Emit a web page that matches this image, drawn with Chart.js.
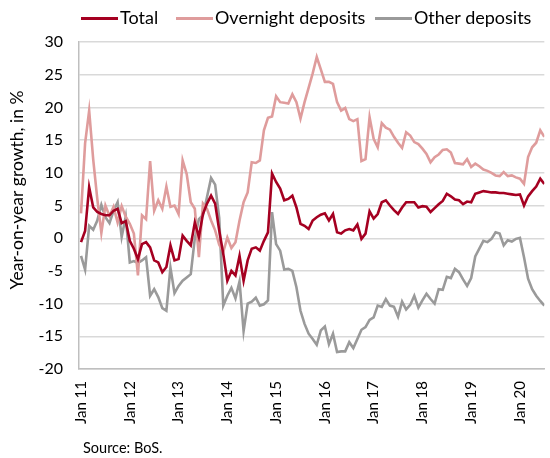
<!DOCTYPE html>
<html>
<head>
<meta charset="utf-8">
<script src="https://cdn.jsdelivr.net/npm/chart.js@4.4.1/dist/chart.umd.min.js"></script>
<style>
  html, body { margin: 0; padding: 0; background: #fff; }
  #wrap { position: relative; width: 550px; height: 458px; font-family: Lato, "Liberation Sans", sans-serif; color: #000; }
  #c { position: absolute; left: 0; top: 0; }
  .item { position: absolute; top: 7px; font-size: 18px; line-height: 21px; white-space: nowrap; }
  .swatch { display: inline-block; width: 37px; height: 3px; vertical-align: middle; margin-right: 2px; position: relative; top: -1px; }
  #source { position: absolute; left: 83px; top: 439px; font-size: 14.5px; white-space: nowrap; }
</style>
</head>
<body>
<div id="wrap">
  <canvas id="c" width="550" height="458"></canvas>
  <div id="legend"></div>
  <div id="source">Source: BoS.</div>
</div>
<script>
// Year-on-year growth of deposits, monthly, Jan 2011 - Jul 2020 (%)
const tickLabels = ['Jan 11', 'Jan 12', 'Jan 13', 'Jan 14', 'Jan 15', 'Jan 16', 'Jan 17', 'Jan 18', 'Jan 19', 'Jan 20'];
const seriesNames = ['Total', 'Overnight deposits', 'Other deposits'];
const seriesColors = ['#a50021', '#df9c9c', '#9a9a9a'];

const total = [
  -0.6, 1.1, 7.8, 4.7, 4.0, 3.7, 3.5, 3.5, 4.2, 4.5, 2.3, 2.6,
  -0.4, -1.6, -3.2, -0.9, -0.6, -1.4, -3.4, -3.7, -5.2, -4.4, -1.1, -3.4,
  -3.2, 0.4, -0.4, -1.1, 2.4, 0.2, 3.7, 5.3, 6.5, 5.3, 1.2, -2.4,
  -6.5, -5.0, -5.7, -2.7, -6.5, -3.4, -1.6, -1.4, -1.9, -0.4, 0.9, 9.9,
  8.6, 7.6, 5.8, 6.0, 6.5, 4.7, 2.2, 1.9, 1.4, 2.7, 3.2, 3.6,
  3.8, 2.7, 3.7, 0.9, 0.7, 1.2, 1.4, 1.2, 2.1, -0.1, 0.7, 4.1,
  3.0, 3.7, 5.5, 5.8, 5.0, 4.3, 3.7, 4.7, 5.5, 5.5, 5.5, 4.7,
  4.9, 4.8, 4.0, 4.6, 5.2, 5.7, 6.8, 6.4, 5.9, 5.8, 5.2, 5.6,
  5.5, 6.8, 7.0, 7.2, 7.1, 7.0, 7.0, 6.9, 6.9, 6.8, 6.7, 6.6,
  6.7, 5.0, 6.4, 7.2, 7.9, 9.1, 8.3
];

const overnight = [
  3.8, 14.5, 19.5, 12.0, 6.0, 0.8, 5.0, 3.4, 4.8, 2.4, 4.9, 3.3,
  2.2, 0.7, -5.7, 3.5, 2.9, 11.8, 4.2, 5.8, 4.5, 7.9, 4.8, 5.0,
  3.7, 11.9, 9.8, 5.5, 4.5, -2.9, 5.3, 4.5, 2.7, 1.2, -1.0, -2.1,
  0.1, -1.5, -0.6, 2.7, 5.5, 7.0, 11.6, 11.5, 11.9, 16.5, 18.4, 18.6,
  21.7, 20.8, 20.7, 20.6, 22.0, 20.8, 18.3, 20.8, 23.0, 25.2, 27.7, 25.8,
  23.9, 23.9, 23.6, 20.8, 19.5, 19.9, 18.2, 17.9, 18.2, 11.8, 12.1, 18.5,
  15.2, 13.9, 17.6, 16.9, 16.6, 15.5, 14.6, 13.8, 16.2, 15.7, 14.7, 14.4,
  13.7, 12.9, 11.6, 12.4, 12.8, 13.5, 13.6, 13.1, 11.5, 11.4, 11.3, 12.1,
  10.9, 11.4, 11.0, 10.5, 10.3, 10.0, 9.6, 9.5, 10.1, 9.5, 9.6, 9.3,
  9.1, 8.3, 12.4, 13.9, 14.6, 16.5, 15.5
];

const other = [
  -2.7, -4.8, 1.9, 1.3, 2.7, 5.1, 3.2, 2.3, 4.2, 5.5, 0.2, 3.3,
  -3.7, -3.5, -3.8, -3.4, -2.9, -8.8, -7.8, -9.0, -10.7, -11.1, -4.5, -8.4,
  -7.3, -6.5, -6.0, -5.5, 0.0, 2.9, 3.5, 6.3, 9.2, 8.2, 3.1, -10.3,
  -8.8, -7.6, -9.2, -6.6, -14.2, -10.0, -9.7, -9.1, -10.3, -10.1, -9.5, 4.0,
  -0.9, -1.9, -4.8, -4.7, -5.0, -7.5, -11.1, -13.1, -14.6, -15.4, -16.3, -14.1,
  -13.5, -16.2, -14.6, -17.4, -17.3, -17.3, -15.9, -16.8, -15.4, -14.0, -13.6, -12.5,
  -12.1, -10.3, -10.5, -9.3, -10.3, -10.5, -12.0, -9.7, -10.9, -10.2, -8.8, -10.6,
  -9.5, -8.5, -9.3, -10.0, -7.8, -7.9, -5.9, -6.1, -4.7, -5.2, -6.3, -7.3,
  -6.1, -2.8, -1.6, -0.4, -0.6, -0.1, 0.9, 0.7, -1.1, -0.3, -0.5, -0.1,
  0.05, -2.9, -6.2, -7.8, -8.8, -9.6, -10.3
];

const seriesValues = [total, overnight, other];
const toPoints = arr => arr.map((v, i) => ({ x: i, y: v }));

// HTML legend above the plot
const legendLefts = [81, 176, 375];
const legendEl = document.getElementById('legend');
seriesNames.forEach((name, i) => {
  const item = document.createElement('div');
  item.className = 'item';
  item.style.left = legendLefts[i] + 'px';
  const sw = document.createElement('span');
  sw.className = 'swatch';
  sw.style.background = seriesColors[i];
  item.appendChild(sw);
  item.appendChild(document.createTextNode(name));
  legendEl.appendChild(item);
});

// Rotated y-axis caption, left of the tick labels
const yCaption = {
  id: 'yCaption',
  afterDraw(chart) {
    const ctx = chart.ctx;
    ctx.save();
    ctx.translate(17, 190);
    ctx.rotate(-Math.PI / 2);
    ctx.font = '17.5px Lato, "Liberation Sans", sans-serif';
    ctx.fillStyle = '#000';
    ctx.textAlign = 'center';
    ctx.textBaseline = 'middle';
    ctx.fillText('Year-on-year growth, in %', 0, 0);
    ctx.restore();
  }
};

function draw() {
  new Chart(document.getElementById('c'), {
    type: 'line',
    data: {
      datasets: seriesNames.map((name, i) => ({
        label: name,
        data: toPoints(seriesValues[i]),
        borderColor: seriesColors[i],
        backgroundColor: seriesColors[i],
        borderWidth: 2.6,
        pointRadius: 0,
        tension: 0,
        fill: false
      }))
    },
    options: {
      responsive: false,
      animation: false,
      layout: { padding: { top: 42, left: 0, right: 1, bottom: 0 } },
      plugins: { legend: { display: false }, tooltip: { enabled: false } },
      scales: {
        x: {
          type: 'linear',
          min: -0.5,
          max: total.length - 1,
          grid: { display: false, drawTicks: false },
          border: { display: true, color: '#bfbfbf', width: 1.5 },
          afterBuildTicks: axis => { axis.ticks = tickLabels.map((_, i) => ({ value: i * 12 })); },
          afterFit: axis => { axis.height = 89; },
          ticks: {
            autoSkip: false,
            minRotation: 90,
            maxRotation: 90,
            padding: 12,
            color: '#000',
            font: { family: 'Lato, "Liberation Sans", sans-serif', size: 15 },
            callback: v => tickLabels[Math.round(v / 12)]
          }
        },
        y: {
          min: -20,
          max: 30,
          grid: { color: '#d9d9d9', lineWidth: 1.4, drawTicks: false },
          border: { display: true, color: '#bfbfbf', width: 1.5 },
          afterFit: axis => { axis.width = 79; },
          ticks: {
            stepSize: 5,
            padding: 16,
            color: '#000',
            font: { family: 'Lato, "Liberation Sans", sans-serif', size: 16 }
          }
        }
      }
    },
    plugins: [yCaption]
  });
}

if (document.fonts && document.fonts.load) {
  Promise.all([document.fonts.load('16px Lato'), document.fonts.load('15px Lato')]).then(draw, draw);
} else {
  draw();
}
</script>
</body>
</html>
